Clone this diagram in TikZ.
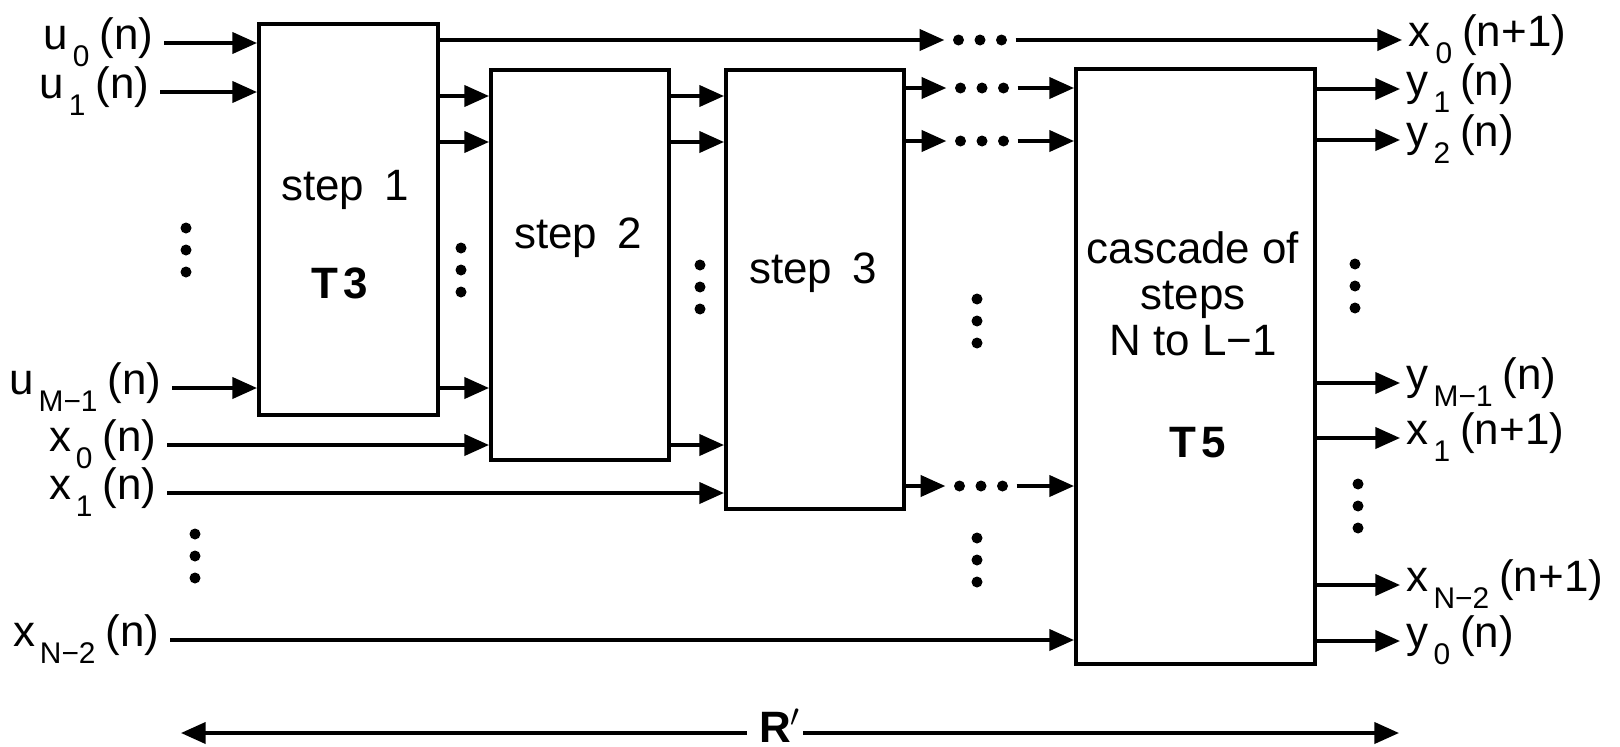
\documentclass[tikz,border=0pt]{standalone}
\usepackage{fontspec}
\setmainfont{Liberation Sans}
\usetikzlibrary{arrows.meta}

\newcommand{\subf}{\fontsize{8.5}{9}\selectfont}
\newcommand{\sig}[3]{#1\hspace{0.5mm}\raisebox{-1.7mm}{\subf #2}\hspace{1mm}(#3)}

\tikzset{
  arr/.style={-{Triangle[length=7pt,width=6pt]}, line width=1pt},
  blk/.style={draw, line width=1.2pt, inner sep=0, anchor=north west},
  inl/.style={anchor=east, inner xsep=1mm, inner ysep=0, text height=2mm, text depth=0.8mm},
  outl/.style={anchor=west, inner xsep=0.6mm, inner ysep=0, text height=2mm, text depth=0.8mm},
  hdots/.style={minimum width=7mm, minimum height=1.4mm, inner sep=0,
    path picture={\fill (path picture bounding box.center) circle (0.55mm)
      ([xshift=-2.15mm]path picture bounding box.center) circle (0.55mm)
      ([xshift=2.15mm]path picture bounding box.center) circle (0.55mm);}},
  vdots/.style={minimum width=1.4mm, minimum height=5.8mm, inner sep=0,
    path picture={\fill (path picture bounding box.center) circle (0.55mm)
      ([yshift=-2.2mm]path picture bounding box.center) circle (0.55mm)
      ([yshift=2.2mm]path picture bounding box.center) circle (0.55mm);}}
}

\begin{document}
\begin{tikzpicture}[x=0.1mm, y=-0.1mm, font=\fontsize{12.5}{13}\selectfont]
\useasboundingbox (0,0) rectangle (1620,747);

% blocks
\node[blk, minimum width=17.9mm, minimum height=39.1mm] (b1) at (257,22) {};
\node[blk, minimum width=17.8mm, minimum height=39mm] (b2) at (489,68) {};
\node[blk, minimum width=17.8mm, minimum height=43.9mm] (b3) at (724,68) {};
\node[blk, minimum width=23.9mm, minimum height=59.5mm] (b4) at (1074,67) {};

\node[anchor=base] (s1) at (345,200) {step\hspace{2mm}1};
\node[anchor=base] (t3) at (340,298) {\bfseries T\hspace{0.5mm}3};
\node[anchor=base] (s2) at (578,248) {step\hspace{2mm}2};
\node[anchor=base] (s3) at (813,283) {step\hspace{2mm}3};
\node[anchor=base, align=center] (cs) at (1193,355) {cascade of\\steps\\N to L−1};
\node[anchor=base] (t5) at (1198,457) {\bfseries T\hspace{0.5mm}5};

% inputs
\node[inl] (u0) at (164,43) {\sig{u}{0}{n}};
\node[inl] (u1) at (160,92) {\sig{u}{1}{n}};
\node[inl] (uM) at (172,388) {\sig{u}{M−1}{n}};
\node[inl] (x0) at (167,445) {\sig{x}{0}{n}};
\node[inl] (x1) at (167,493) {\sig{x}{1}{n}};
\node[inl] (xN) at (170,640) {\sig{x}{N−2}{n}};

% outputs
\node[outl] (x0o) at (1402,40) {\sig{x}{0}{n+1}};
\node[outl] (y1) at (1400,89) {\sig{y}{1}{n}};
\node[outl] (y2) at (1400,140) {\sig{y}{2}{n}};
\node[outl] (yM) at (1400,383) {\sig{y}{M−1}{n}};
\node[outl] (x1o) at (1400,438) {\sig{x}{1}{n+1}};
\node[outl] (xNo) at (1400,585) {\sig{x}{N−2}{n+1}};
\node[outl] (y0) at (1400,641) {\sig{y}{0}{n}};

% dots
\node[hdots] (hd0) at (980,40) {};
\node[hdots] (hd1) at (982,88) {};
\node[hdots] (hd2) at (982,141) {};
\node[hdots] (hd3) at (981,486) {};
\node[vdots] (vd1) at (186,250) {};
\node[vdots] (vd2) at (195,556) {};
\node[vdots] (vd3) at (461,270) {};
\node[vdots] (vd4) at (700,287) {};
\node[vdots] (vd5) at (977,321) {};
\node[vdots] (vd6) at (977,560) {};
\node[vdots] (vd7) at (1355,286) {};
\node[vdots] (vd8) at (1358,506) {};

% connectors
\draw[arr] (u0.east) -- (u0.east -| b1.west);
\draw[arr] (u1.east) -- (u1.east -| b1.west);
\draw[arr] (uM.east) -- (uM.east -| b1.west);
\draw[arr] (b1.east |- hd0) -- (hd0.west);
\draw[arr] (hd0.east) -- (x0o.west);
\draw[arr] (b1.east |- 0,96) -- (b2.west |- 0,96);
\draw[arr] (b1.east |- 0,142) -- (b2.west |- 0,142);
\draw[arr] (b1.east |- uM.east) -- (b2.west |- uM.east);
\draw[arr] (x0.east) -- (x0.east -| b2.west);
\draw[arr] (b2.east |- 0,96) -- (b3.west |- 0,96);
\draw[arr] (b2.east |- 0,142) -- (b3.west |- 0,142);
\draw[arr] (b2.east |- x0.east) -- (b3.west |- x0.east);
\draw[arr] (x1.east) -- (x1.east -| b3.west);
\draw[arr] (b3.east |- hd1) -- (hd1.west);
\draw[arr] (hd1.east) -- (hd1.east -| b4.west);
\draw[arr] (b3.east |- hd2) -- (hd2.west);
\draw[arr] (hd2.east) -- (hd2.east -| b4.west);
\draw[arr] (b3.east |- hd3) -- (hd3.west);
\draw[arr] (hd3.east) -- (hd3.east -| b4.west);
\draw[arr] (xN.east) -- (xN.east -| b4.west);
\draw[arr] (b4.east |- y1.west) -- (y1.west);
\draw[arr] (b4.east |- y2.west) -- (y2.west);
\draw[arr] (b4.east |- yM.west) -- (yM.west);
\draw[arr] (b4.east |- x1o.west) -- (x1o.west);
\draw[arr] (b4.east |- xNo.west) -- (xNo.west);
\draw[arr] (b4.east |- y0.west) -- (y0.west);

% R'
\coordinate (rl) at (181,733);
\coordinate (rr) at (1399,733);
\node[anchor=base] (rp) at (775,742) {\bfseries R\rlap{$'$}};
\draw[arr] (rp.west |- rl) -- (rl);
\draw[arr] (rp.east |- rr) -- (rr);
\end{tikzpicture}
\end{document}
